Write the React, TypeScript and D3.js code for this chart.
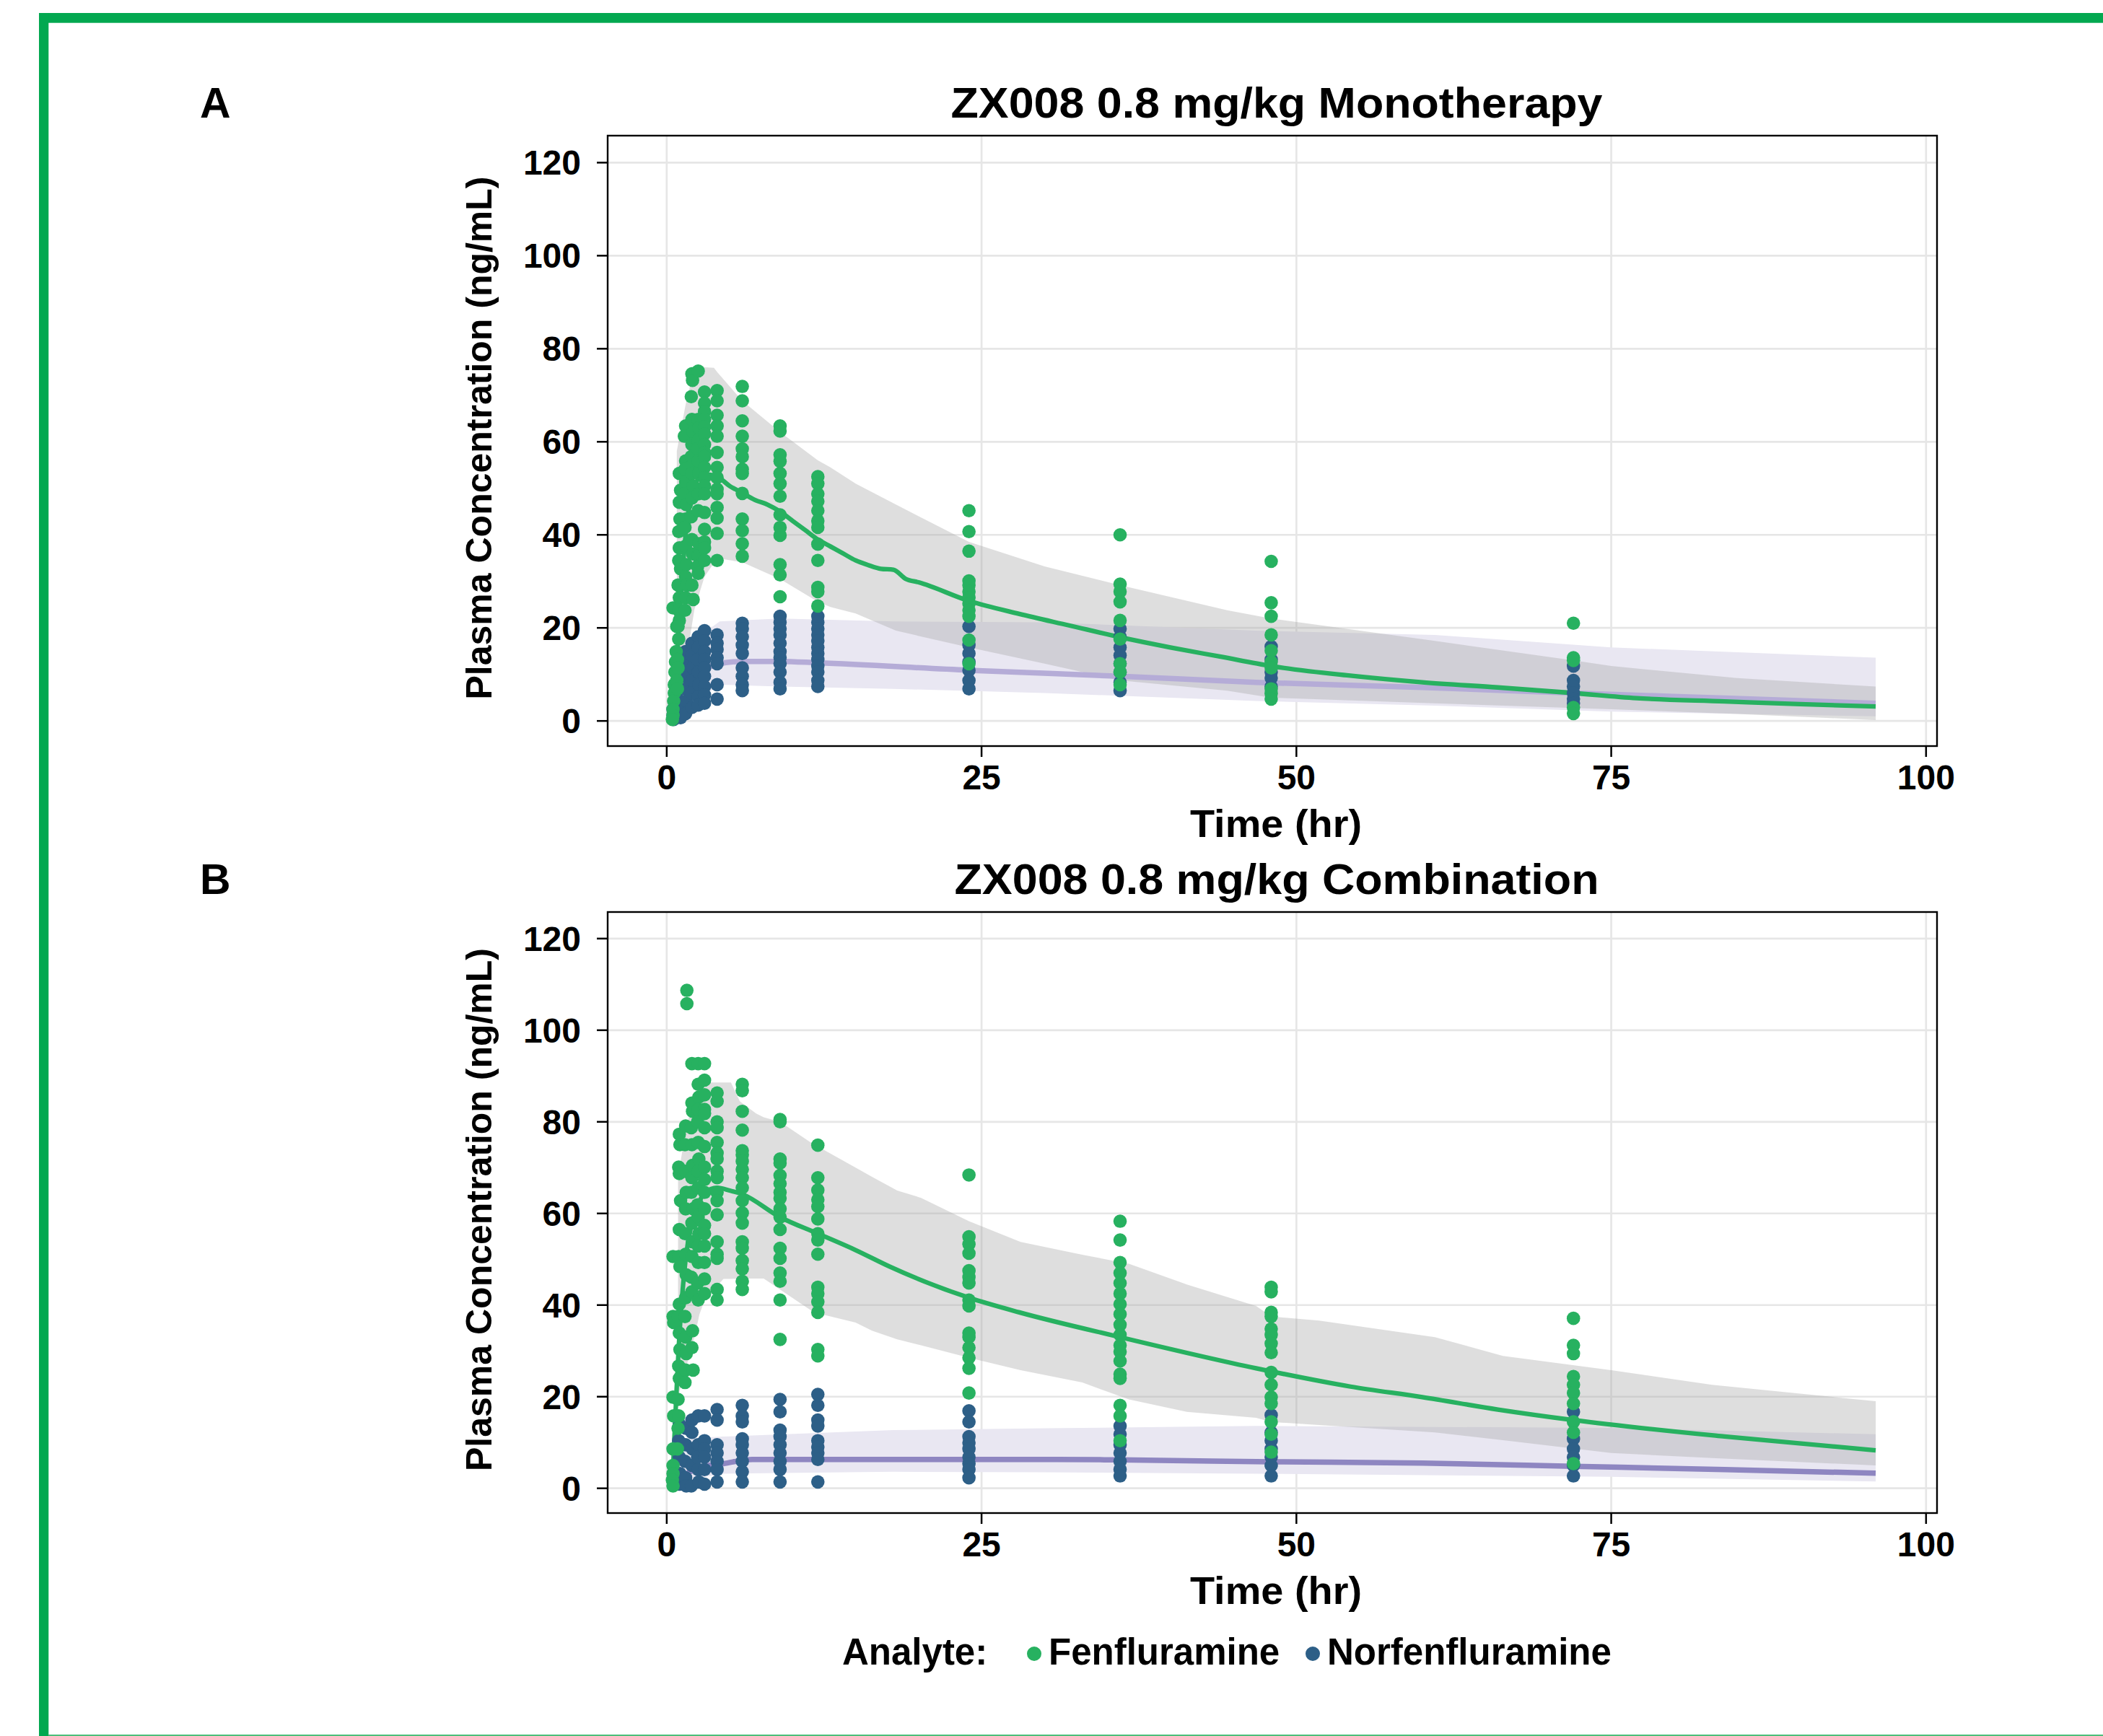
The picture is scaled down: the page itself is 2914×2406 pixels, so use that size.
import React from 'react';
import * as d3 from 'd3';

type Pt = [number, number];
type Grp = [number, number[]];
type Band = [number, number, number];

// ---------- Panel A: Monotherapy ----------
const fenMonoEarly: Pt[] = [
  [0.5, 24.3], [0.8, 20.3], [0.75, 14.9], [0.7, 12.7], [0.65, 10.5], [0.6, 7.8], [0.6, 6], [0.55, 4.3], [0.5, 2.5], [0.5, 1.2], [0.45, 0.3],
  [1.0, 53.2], [1.1, 49.6], [1.0, 47], [1.05, 43.4], [0.95, 40.7], [1.0, 37.2], [0.95, 34.5], [1.1, 32.7], [0.9, 29.2], [1.0, 26.5], [0.95, 23.8], [1.0, 21.6], [0.9, 20.3], [0.95, 17.6], [0.85, 13.2], [0.9, 11.4], [0.8, 8.7], [0.85, 6.9],
  [1.5, 63.4], [1.4, 61.2], [1.5, 55.9], [1.45, 54.1], [1.5, 51.4], [1.4, 48.8], [1.55, 46.5], [1.5, 43.4], [1.45, 41.6], [1.5, 37.6], [1.55, 33.6], [1.5, 31], [1.6, 29.2], [1.5, 26.5], [1.45, 23.8],
  [2, 74.6], [2.05, 73.2], [1.95, 69.7], [2, 64.8], [2.1, 62.1], [2, 59.4], [1.95, 56.8], [2.05, 55], [2, 53.2], [2.1, 50.5], [2, 47.9], [1.95, 43.9], [2, 39], [2.05, 35.9], [2, 29.2], [2.1, 26.1],
  [2.5, 75.2], [2.5, 64.8], [2.55, 63], [2.5, 60.3], [2.45, 58.5], [2.5, 55.9], [2.55, 53.2], [2.5, 48.8], [2.5, 45.2], [2.55, 38.1], [2.5, 35.4], [2.45, 33.2], [2.5, 31.7],
];
const fenMonoLate: Grp[] = [
  [3, [70.7, 68.3, 66.5, 64.8, 63.2, 61.7, 59.4, 57.7, 56.8, 54.5, 52.3, 50.5, 48.8, 44.8, 41.2, 38.5, 37.2, 34.5]],
  [4, [71, 68.8, 65.7, 63.4, 61.2, 57.7, 54.5, 52.3, 49.8, 48.8, 45.9, 43.6, 40.3, 34.5]],
  [6, [71.9, 68.8, 64.5, 61.2, 58.5, 56.8, 54.1, 53.2, 48.9, 43.4, 40.9, 38.1, 35.4]],
  [9, [63.4, 62.3, 57.2, 55.8, 53.2, 51, 48.3, 44.3, 41.6, 39.9, 33.6, 31.4, 26.7]],
  [12, [52.5, 51, 48.8, 47.2, 45.2, 43, 41.6, 38, 34.5, 28.7, 27.8, 24.7]],
  [24, [45.2, 40.7, 36.5, 30.1, 29.2, 27.8, 26.5, 25.2, 23.8, 22.5, 17.4, 12.3]],
  [36, [40, 29.4, 27.8, 25.6, 21.6, 17.6, 12.3, 10.5, 7.8]],
  [48, [34.3, 25.4, 22.5, 18.5, 15.1, 12.7, 11.4, 6.9, 5.9, 4.7]],
  [72, [21, 13.6, 13, 2.9, 1.6]],
];
const norMonoEarly: Pt[] = [
  [0.5, 2.5], [0.5, 1.2], [0.55, 0.3],
  [1, 13.2], [0.95, 9.6], [1, 6.9], [1.05, 4.3], [1, 2.5], [1.1, 0.7],
  [1.5, 14.9], [1.5, 12.3], [1.45, 9.6], [1.5, 6.9], [1.55, 4.3], [1.5, 1.6],
  [2, 16.7], [2, 14.1], [2.05, 11.4], [2, 8.7], [1.95, 6], [2, 2.9],
  [2.5, 18.1], [2.5, 15.8], [2.45, 13.2], [2.5, 10.5], [2.55, 7.8], [2.5, 5.2], [2.5, 3.4],
];
const norMonoLate: Grp[] = [
  [3, [19.4, 17.2, 14.9, 13.2, 11.4, 9.6, 7.4, 5.6, 3.8]],
  [4, [18.5, 16.7, 15.4, 13.6, 12.3, 7.8, 4.7]],
  [6, [21, 19.8, 18.1, 16.3, 14.5, 11.4, 9.6, 7.8, 6.5]],
  [9, [22.5, 21.2, 19.8, 18.5, 16.7, 14.9, 13.6, 12.3, 10.5, 8.3, 6.9]],
  [12, [22.5, 21.2, 19.8, 18.5, 17.2, 15.8, 14.5, 13.2, 11.8, 10.5, 8.7, 7.4]],
  [24, [20.3, 16.3, 14.5, 12.7, 10.9, 8.7, 6.9]],
  [36, [19.8, 18.1, 15.8, 14.1, 12.3, 10.5, 8.3, 6.5]],
  [48, [16, 13.2, 10.5, 9.2, 7.4]],
  [72, [11.8, 8.7, 7.4, 6, 4.7, 3.8]],
];
const fenMonoMedian: Pt[] = [
  [0.5, 1], [1, 22], [1.5, 40], [2, 49], [2.5, 52], [3, 53], [4, 52.5], [5, 50.5], [6, 49], [7, 47.5], [8, 46.5], [9, 45],
  [10, 43], [11, 41], [12, 39], [13, 37.5], [14, 36], [15, 34.5], [16, 33.5], [17, 32.7], [18, 32.5], [19, 30.5], [20, 29.8],
  [24, 25.8], [28, 23], [32, 20.5], [36, 18], [40, 15.8], [44, 13.8], [48, 11.8], [54, 9.8], [60, 8.3], [66, 7.2], [72, 6],
  [77, 4.9], [84, 4.2], [90, 3.6], [96, 3.1],
];
const norMonoMedian: Pt[] = [
  [0.5, 0.5], [1, 5], [2, 9], [3, 11], [4, 12.2], [6, 12.8], [9, 12.8], [12, 12.5], [24, 10.9], [36, 9.6], [46.8, 8.3],
  [60, 7.2], [72, 6], [84, 4.9], [96, 3.8],
];
const fenMonoBand: Band[] = [
  [0.8, 1.5, 58], [1.5, 12, 68], [2.2, 24, 76], [3, 31, 76], [3.75, 34, 75.9], [4, 35, 75], [6, 34.1, 68.8], [9, 30.5, 62.1],
  [12, 25.6, 56], [13, 24.5, 54.5], [15, 23.1, 51], [18.2, 19.4, 46.5], [24, 15.8, 38.5], [30, 12.3, 33.2], [36, 8.7, 29.2],
  [44.5, 6.5, 23.8], [48, 5, 22], [61, 3.8, 17.2], [72, 2.8, 13], [75, 2.5, 11.8], [85, 1.5, 9.2], [96, 0.2, 7.4],
];
const norMonoBand: Band[] = [
  [1, 0.5, 8], [2, 3, 15], [3, 5.5, 19], [4.2, 7.8, 21.4], [9, 7.4, 22], [18, 6.9, 21.4], [30, 6, 21.2], [46.8, 4.3, 19.4],
  [61, 3.3, 18.5], [75, 2, 15.8], [96, 1.0, 13.6],
];

// ---------- Panel B: Combination ----------
const fenComboEarly: Pt[] = [
  [0.5, 50.6], [0.5, 37.5], [0.55, 36.2], [0.5, 19.9], [0.55, 15.8], [0.5, 8.6], [0.5, 5], [0.5, 3.2], [0.45, 1.8], [0.5, 0.5],
  [1.0, 77.3], [1.05, 75], [0.95, 70.1], [1.0, 68.7], [1.1, 62.8], [1.0, 56.5], [0.95, 50.6], [1.05, 48.4], [1.0, 40.2], [0.9, 37.5], [1.0, 33.9], [1.05, 30.3], [0.95, 26.7], [1.0, 24], [0.9, 19.4], [0.95, 15.8], [0.9, 13.1], [0.85, 8.6],
  [1.6, 108.7], [1.6, 105.8],
  [1.5, 79.1], [1.45, 75], [1.5, 69.2], [1.55, 64.6], [1.5, 61], [1.45, 55.6], [1.5, 51.1], [1.55, 46.6], [1.5, 41.6], [1.45, 37.5], [1.5, 33], [1.55, 29.4], [1.5, 25.8], [1.45, 23.1],
  [2, 92.7], [2, 84.1], [2.05, 82.3], [1.95, 78.7], [2, 75], [2.05, 70.5], [2, 67.8], [1.95, 64.6], [2.1, 61], [2, 57.9], [2.05, 53.8], [2, 50.6], [1.95, 46.1], [2, 42.9], [2.05, 34.4], [2, 30.7], [2.1, 25.8],
  [2.5, 92.7], [2.5, 88.2], [2.55, 85.4], [2.5, 82.7], [2.45, 80], [2.5, 75.5], [2.55, 71.9], [2.5, 69.2], [2.5, 65.6], [2.45, 61.9], [2.5, 59.2], [2.55, 55.6], [2.5, 52.9], [2.5, 49.3], [2.45, 44.8], [2.5, 41.1],
];
const fenComboLate: Grp[] = [
  [3, [92.7, 89.1, 85.9, 82.7, 81.8, 78.7, 74.6, 70.1, 67.4, 64.6, 61, 57.4, 55.6, 52.9, 49.3, 45.7, 42.5]],
  [4, [86.3, 84.5, 80, 78.7, 75.5, 73.2, 71.9, 69.2, 67.8, 64.6, 62.8, 59.7, 53.8, 51.1, 50.2, 43.4, 41.1]],
  [6, [88.2, 86.8, 82.3, 78.2, 73.7, 72.8, 71.4, 69.6, 67.8, 65.6, 62.8, 60.1, 57.9, 53.8, 52.4, 49.7, 47.9, 45.2, 43.4]],
  [9, [80.5, 80, 71.9, 71, 68.3, 66.5, 64.6, 63.3, 61, 59.2, 56.5, 52.4, 50.2, 47, 45.2, 41.1, 32.5]],
  [12, [74.9, 67.8, 65.1, 63, 61.5, 58.8, 55.6, 54.2, 51.1, 43.9, 42.5, 40.7, 38.4, 30.3, 28.9]],
  [24, [68.4, 54.9, 53.3, 51.3, 47.5, 46.1, 44.8, 41.1, 39.8, 33.9, 33, 30.7, 28.5, 26.2, 20.8]],
  [36, [58.3, 54.2, 49.3, 47, 44.8, 42.5, 40.2, 38, 35.7, 33.5, 31.2, 29.8, 27.8, 24.9, 24, 18.1, 15.8, 10.4]],
  [48, [43.9, 42.9, 38.4, 37.5, 34.8, 33.5, 31.6, 29.6, 25.3, 22.6, 19.9, 18.5, 14.5, 11.8, 7.9]],
  [72, [37.1, 31.2, 29.4, 24.4, 22.6, 20.8, 18.5, 14.5, 12.2, 5.4]],
];
const norComboEarly: Pt[] = [
  [1, 14], [0.95, 10.4], [1, 6.8], [1.05, 3.2], [1, 0.9],
  [1.5, 13.1], [1.5, 9.5], [1.45, 5.9], [1.5, 2.3], [1.55, 0.5],
  [2, 14.9], [2, 12.2], [2.05, 8.6], [2, 5], [1.95, 0.5],
  [2.5, 15.8], [2.5, 9.5], [2.45, 6.8], [2.5, 4.1], [2.55, 1.4],
];
const norComboLate: Grp[] = [
  [3, [15.8, 10.4, 8.6, 6.8, 4.1, 0.9]],
  [4, [17.2, 14.9, 9.5, 7.7, 5.9, 4.1, 1.4]],
  [6, [18.1, 15.8, 14.5, 10.8, 9.5, 7.7, 5.9, 3.6, 1.4]],
  [9, [19.4, 16.7, 12.7, 11.3, 9.5, 7.7, 5.9, 4.1, 1.4]],
  [12, [20.5, 18.1, 14.9, 13.6, 10.4, 9, 7.7, 6.3, 1.4]],
  [24, [16.9, 14.5, 11.3, 9.9, 8.6, 6.8, 5.4, 4.1, 2.3]],
  [36, [13.6, 11.8, 9.5, 7.7, 5.9, 4.1, 2.7]],
  [48, [16, 12.2, 10.4, 8.6, 6.8, 5, 2.7]],
  [72, [16.7, 10.8, 8.6, 6.8, 5, 2.7]],
];
const fenComboMedian: Pt[] = [
  [0.5, 4], [1, 33], [1.5, 50], [2, 58], [2.5, 62], [3, 64.5], [4, 65.6], [5, 65], [6, 64.2], [9, 59.2], [12, 55.6],
  [15, 52], [17.7, 48.4], [24, 41.6], [28, 38.4], [36, 33], [46.8, 26.2], [54.3, 22.2], [60, 19.9], [66, 17.2], [72, 14.9],
  [84, 11.3], [96, 8.3],
];
const norComboMedian: Pt[] = [
  [0.5, 0.5], [1, 2], [2, 3.8], [3, 4.8], [4.5, 5.4], [6.8, 6.3], [20, 6.3], [31, 6.3], [36, 6.2], [48, 5.8], [60, 5.5],
  [72, 4.8], [84, 4.1], [96, 3.3],
];
const fenComboBand: Band[] = [
  [0.9, 20, 68], [1.5, 26, 78], [2.2, 33, 86], [2.6, 38, 88.6], [3, 41, 88.6], [4.5, 45.7, 88.6], [5.1, 45.7, 88.6],
  [5.8, 45.8, 84.5], [7.1, 45.8, 81.8], [7.7, 45.8, 81], [9, 43.4, 80], [11.7, 38.4, 75], [12, 38.2, 74.6], [15, 36.2, 70],
  [16.3, 34.4, 68], [18.3, 32.5, 65], [20.2, 31.2, 63.4], [24, 28.5, 58.3], [28.1, 25.8, 53.8], [33, 23.1, 51],
  [36.7, 19.4, 49], [41.3, 16.7, 44.5], [46.8, 15.4, 39.8], [48, 14.5, 37.5], [51.8, 13.8, 36.6], [61, 12.2, 33],
  [66.4, 10.5, 28.9], [75, 7.7, 25.8], [83, 6.6, 22.6], [96, 5, 19],
];
const norComboBand: Band[] = [
  [1, 0.5, 8], [2, 2, 11], [4.5, 3.2, 11.3], [18, 3.6, 12.7], [30, 3.5, 13.1], [46.8, 3.2, 13.6], [75, 2.5, 13.2], [96, 1.5, 11.8],
];

const xTicks = [0, 25, 50, 75, 100];
const yTicks = [0, 20, 40, 60, 80, 100, 120];
const legendItems = ['Fenfluramine', 'Norfenfluramine'];

const GREEN = '#27B160';
const BLUE = '#2D5F87';
const FONT = '"Liberation Sans", Arial, Helvetica, sans-serif';

const expand = (early: Pt[], late: Grp[]): Pt[] =>
  early.concat(late.flatMap(([t, cs]) => cs.map((c) => [t, c] as Pt)));

const X0 = 842;
const X1 = 2684;
const xScale = d3.scaleLinear().domain([-4.69, 100.87]).range([X0, X1]);

interface PanelProps {
  top: number;
  bottom: number;
  title: string;
  titleLen: number;
  label: string;
  fen: Pt[];
  nor: Pt[];
  fenMed: Pt[];
  norMed: Pt[];
  fenBand: Band[];
  norBand: Band[];
  norLineColor: string;
}

function Panel(p: PanelProps) {
  const y = d3.scaleLinear().domain([-5.4, 125.8]).range([p.bottom, p.top]);
  const area = d3
    .area<Band>()
    .x((d) => xScale(d[0]))
    .y0((d) => y(d[1]))
    .y1((d) => y(d[2]));
  const line = d3
    .line<Pt>()
    .x((d) => xScale(d[0]))
    .y((d) => y(d[1]))
    .curve(d3.curveMonotoneX);
  const cx = (X0 + X1) / 2;
  const cy = (p.top + p.bottom) / 2;
  return (
    <g>
      {yTicks.map((t) => (
        <line key={'gy' + t} x1={X0} x2={X1} y1={y(t)} y2={y(t)} stroke="#E6E6E6" strokeWidth={2.7} />
      ))}
      {xTicks.map((t) => (
        <line key={'gx' + t} x1={xScale(t)} x2={xScale(t)} y1={p.top} y2={p.bottom} stroke="#E6E6E6" strokeWidth={2.7} />
      ))}
      <path d={area(p.norBand) || ''} fill="#E9E7F2" />
      <path d={area(p.fenBand) || ''} fill="#A9A9A9" fillOpacity={0.38} />
      <path d={line(p.norMed) || ''} fill="none" stroke={p.norLineColor} strokeWidth={7.5} />
      <path d={line(p.fenMed) || ''} fill="none" stroke={GREEN} strokeWidth={6.3} />
      {p.nor.map((d, i) => (
        <circle key={'n' + i} cx={xScale(d[0])} cy={y(d[1])} r={9.3} fill={BLUE} />
      ))}
      {p.fen.map((d, i) => (
        <circle key={'f' + i} cx={xScale(d[0])} cy={y(d[1])} r={9.3} fill={GREEN} />
      ))}
      <rect x={X0} y={p.top} width={X1 - X0} height={p.bottom - p.top} fill="none" stroke="#000" strokeWidth={2.4} />
      {yTicks.map((t) => (
        <g key={'ty' + t}>
          <line x1={X0 - 15} x2={X0} y1={y(t)} y2={y(t)} stroke="#000" strokeWidth={2.5} />
          <text x={805} y={y(t) + 17} textAnchor="end" fontSize={48} fontWeight="bold" fontFamily={FONT} fill="#000">
            {t}
          </text>
        </g>
      ))}
      {xTicks.map((t) => (
        <g key={'tx' + t}>
          <line x1={xScale(t)} x2={xScale(t)} y1={p.bottom} y2={p.bottom + 15} stroke="#000" strokeWidth={2.5} />
          <text x={xScale(t)} y={p.bottom + 60} textAnchor="middle" fontSize={48} fontWeight="bold" fontFamily={FONT} fill="#000">
            {t}
          </text>
        </g>
      ))}
      <text
        x={cx + 5}
        y={p.bottom + 126}
        textAnchor="middle"
        fontSize={53}
        fontWeight="bold"
        fontFamily={FONT}
        fill="#000"
        textLength={238}
        lengthAdjust="spacingAndGlyphs"
      >
        Time (hr)
      </text>
      <text
        transform={`translate(681, ${cy - 4}) rotate(-90)`}
        textAnchor="middle"
        fontSize={50}
        fontWeight="bold"
        fontFamily={FONT}
        fill="#000"
        textLength={725}
        lengthAdjust="spacingAndGlyphs"
      >
        Plasma Concentration (ng/mL)
      </text>
      <text
        x={cx + 6}
        y={p.top - 25}
        textAnchor="middle"
        fontSize={59}
        fontWeight="bold"
        fontFamily={FONT}
        fill="#000"
        textLength={p.titleLen}
        lengthAdjust="spacingAndGlyphs"
      >
        {p.title}
      </text>
      <text x={277} y={p.top - 25} fontSize={59} fontWeight="bold" fontFamily={FONT} fill="#000">
        {p.label}
      </text>
    </g>
  );
}

export default function App() {
  const W = 2914;
  const H = 2406;
  return (
    <svg
      width={W}
      height={H}
      viewBox={`0 0 ${W} ${H}`}
      style={{ position: 'absolute', left: 0, top: 0, background: '#fff' }}
    >
      <rect x={0} y={0} width={W} height={H} fill="#fff" />
      <rect x={54} y={18} width={W - 54} height={13.7} fill="#03A850" />
      <rect x={54} y={18} width={13.3} height={H - 18} fill="#03A850" />
      <line x1={67} x2={W} y1={2405} y2={2405} stroke="#4CBF7A" strokeWidth={2} />

      <Panel
        top={188}
        bottom={1034}
        title="ZX008 0.8 mg/kg Monotherapy"
        titleLen={903}
        label="A"
        fen={expand(fenMonoEarly, fenMonoLate)}
        nor={expand(norMonoEarly, norMonoLate)}
        fenMed={fenMonoMedian}
        norMed={norMonoMedian}
        fenBand={fenMonoBand}
        norBand={norMonoBand}
        norLineColor="#B5ACD7"
      />
      <Panel
        top={1264}
        bottom={2097}
        title="ZX008 0.8 mg/kg Combination"
        titleLen={893}
        label="B"
        fen={expand(fenComboEarly, fenComboLate)}
        nor={expand(norComboEarly, norComboLate)}
        fenMed={fenComboMedian}
        norMed={norComboMedian}
        fenBand={fenComboBand}
        norBand={norComboBand}
        norLineColor="#8E86C1"
      />

      <g fontFamily={FONT} fontWeight="bold" fontSize={51} fill="#000">
        <text x={1167} y={2307}>Analyte:</text>
        <circle cx={1433} cy={2292} r={10} fill={GREEN} />
        <text x={1453} y={2307}>{legendItems[0]}</text>
        <circle cx={1819} cy={2292} r={10} fill={BLUE} />
        <text x={1839} y={2307}>{legendItems[1]}</text>
      </g>
    </svg>
  );
}
